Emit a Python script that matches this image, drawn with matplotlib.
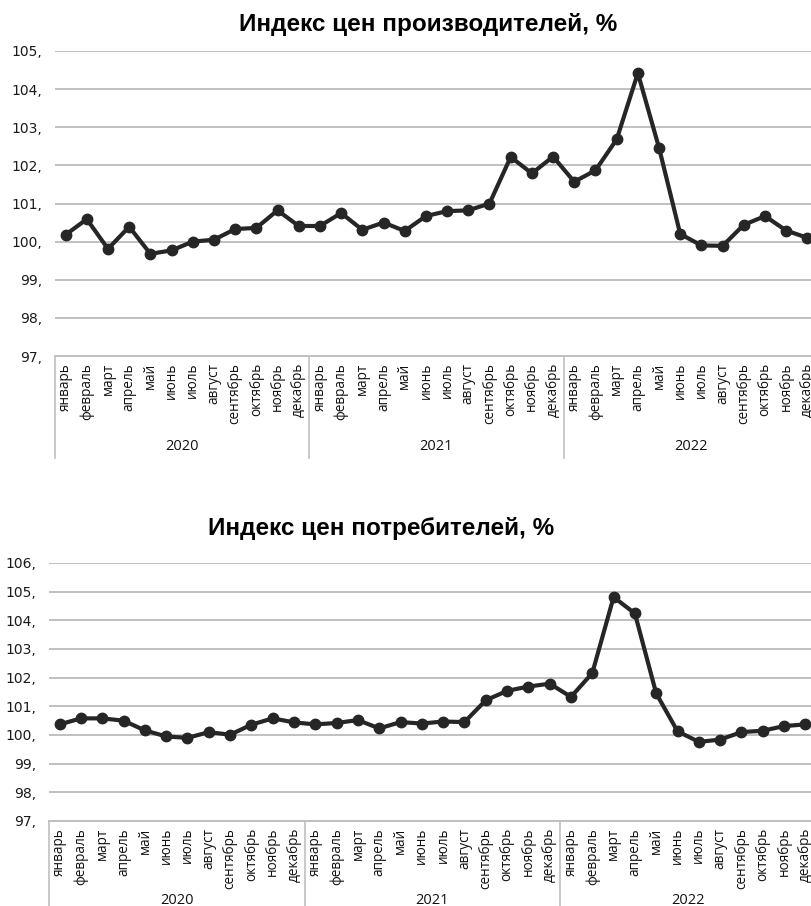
import matplotlib
matplotlib.use("Agg")
import matplotlib.pyplot as plt
import matplotlib.transforms as mtransforms
import numpy as np

months = ["январь", "февраль", "март", "апрель", "май", "июнь", "июль",
          "август", "сентябрь", "октябрь", "ноябрь", "декабрь"]
years = ["2020", "2021", "2022"]

ppi = [100.18, 100.59, 99.81, 100.39, 99.68, 99.77, 100.00, 100.05, 100.33, 100.36, 100.82, 100.41,
       100.41, 100.75, 100.31, 100.50, 100.28, 100.67, 100.80, 100.82, 101.00, 102.22, 101.79, 102.23,
       101.57, 101.87, 102.68, 104.42, 102.46, 100.20, 99.90, 99.89, 100.44, 100.67, 100.29, 100.10]

cpi = [100.37, 100.58, 100.58, 100.50, 100.16, 99.95, 99.90, 100.10, 100.01, 100.36, 100.58, 100.44,
       100.37, 100.42, 100.52, 100.23, 100.45, 100.40, 100.47, 100.45, 101.21, 101.54, 101.69, 101.79,
       101.33, 102.16, 104.81, 104.24, 101.45, 100.13, 99.76, 99.84, 100.10, 100.15, 100.31, 100.37]

ppi_title = "Индекс цен производителей, %"
cpi_title = "Индекс цен потребителей, %"

W, H = 811, 906
fig = plt.figure(figsize=(W / 100, H / 100), dpi=100)
fig.patch.set_facecolor("white")

GRID = "#c0c0c0"
LINE = "#262626"


def make_panel(rect_px, values, ymin, ymax, title, title_xy, sep_px, year_px):
    left, top, right, bottom = rect_px
    ax = fig.add_axes([left / W, 1 - bottom / H, (right - left) / W, (bottom - top) / H])
    n = len(values)
    x = np.arange(n)
    ax.plot(x, values, color=LINE, lw=3.0, marker="o", ms=7.5, zorder=3, clip_on=False)
    ax.set_xlim(-0.5, n - 0.5)
    ax.set_ylim(ymin, ymax)
    yt = list(range(ymin, ymax + 1))
    ax.set_yticks(yt)
    ax.set_yticklabels([f"{v}," for v in yt], fontsize=10, color="#1a1a1a",
                       family=["DejaVu Sans"])
    ax.yaxis.grid(True, color=GRID, lw=1.4)
    ax.set_axisbelow(True)
    for s in ["left", "right", "top"]:
        ax.spines[s].set_visible(False)
    ax.spines["bottom"].set_color(GRID)
    ax.spines["bottom"].set_linewidth(1.4)
    ax.tick_params(axis="both", length=0)
    ax.tick_params(axis="y", pad=9)
    ax.set_xticks(x)
    ax.set_xticklabels(months * len(years), rotation=90, fontsize=9.8,
                       family=["Open Sans", "DejaVu Sans"], color="#111111")
    ax.tick_params(axis="x", pad=5)
    hpx = bottom - top
    trans = mtransforms.blended_transform_factory(ax.transData, ax.transAxes)
    for k in range(len(years) + 1):
        ax.plot([k * 12 - 0.5] * 2, [0, -sep_px / hpx], transform=trans, color=GRID,
                lw=1.2, clip_on=False)
    for k, yr in enumerate(years):
        ax.text(k * 12 + 5.5, -year_px / hpx, yr, transform=trans, ha="center", va="center",
                fontsize=10.5, family=["Open Sans", "DejaVu Sans"], color="#111111")
    fig.text(title_xy[0] / W, 1 - title_xy[1] / H, title, ha="center", va="center",
             fontsize=17.5, fontweight="bold", family=["Liberation Sans", "DejaVu Sans"],
             color="black")
    return ax


make_panel((55, 51, 818, 356), ppi, 97, 105, ppi_title, (428, 25), 102, 91)
make_panel((49, 563, 816, 821), cpi, 97, 106, cpi_title, (381, 528), 100, 79)

fig.savefig("out.png", dpi=100, facecolor="white")
